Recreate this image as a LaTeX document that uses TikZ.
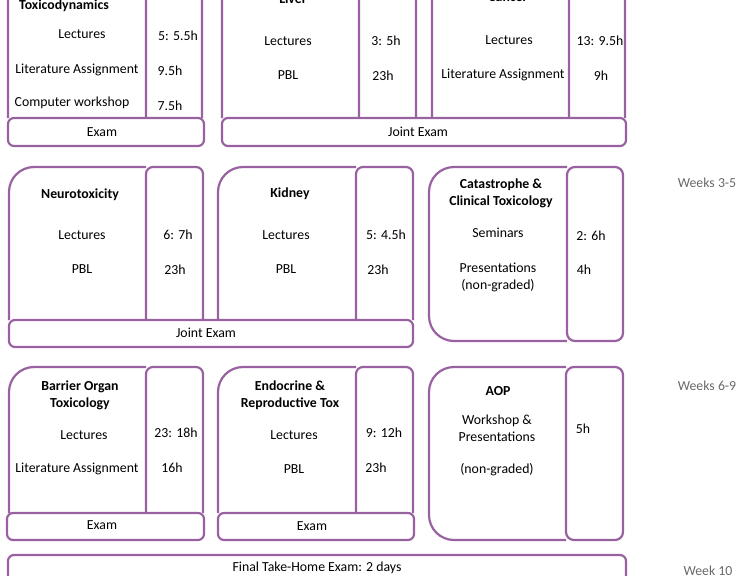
\documentclass[tikz,border=0pt]{standalone}
\usepackage{fontspec}
\setmainfont{Carlito}
\usetikzlibrary{positioning}
\definecolor{lila}{RGB}{152,98,160}
\definecolor{grau}{RGB}{105,105,105}

\begin{document}
\begin{tikzpicture}[x=1pt, y=-1pt,
    box/.style={draw=lila, line width=2.2pt, line join=round},
    exam/.style={box, fill=white, rounded corners=6},
    txt/.style={font=\fontsize{13.8}{17}\selectfont, align=center, inner sep=0pt},
    titel/.style={txt, font=\fontsize{13.8}{17}\selectfont\bfseries},
    woche/.style={txt, text=grau}]

    \useasboundingbox (0,0) rectangle (745,576);
    \clip (0,0) rectangle (745,576);

    % Kaesten Reihe 1
    \draw[box, rounded corners=25] (8,118) |- (146,-40);
    \draw[box, rounded corners=7] (146,118) |- (202,-40) -- (202,118);
    \draw[box, rounded corners=25] (222,118) |- (359,-40);
    \draw[box, rounded corners=7] (359,118) |- (416,-40) -- (416,118);
    \draw[box, rounded corners=25] (432,118) |- (569,-40);
    \draw[box, rounded corners=7] (569,118) |- (625,-40) -- (625,118);
    \draw[exam] (8,118) rectangle (204,146);
    \draw[exam] (222,118) rectangle (626,146);

    % Kaesten Reihe 2
    \draw[box, rounded corners=25] (9,320) |- (146,167);
    \draw[box, rounded corners=7] (146,320) |- (203,167) -- (203,320);
    \draw[box, rounded corners=25] (218,320) |- (356,167);
    \draw[box, rounded corners=7] (356,320) |- (413,167) -- (413,320);
    \draw[exam] (9,320) rectangle (413,347);
    \draw[box, rounded corners=25] (567,341) -| (429,167) -- (567,167);
    \draw[box, fill=white, rounded corners=8] (567,167) rectangle (623,341);

    % Kaesten Reihe 3
    \draw[box, rounded corners=25] (9,513) |- (146,367);
    \draw[box, rounded corners=7] (146,513) |- (203,367) -- (203,513);
    \draw[box, rounded corners=25] (218,513) |- (356,367);
    \draw[box, rounded corners=7] (356,513) |- (413,367) -- (413,513);
    \draw[exam] (7,513) rectangle (204,540);
    \draw[exam] (218,513) rectangle (414,540);
    \draw[box, rounded corners=25] (566,540) -| (429,367) -- (566,367);
    \draw[box, fill=white, rounded corners=8] (566,367) rectangle (623,540);

    % Abschlusspruefung
    \draw[exam] (8,555) rectangle (626,600);

    % Texte Reihe 1
    \node[titel] (td) at (64,6) {Toxicodynamics};
    \node[txt] (tdLec) at (82,34) {Lectures};
    \node[txt] (tdLecH) at (178,36) {5: 5.5h};
    \node[txt] (tdLit) at (77,70) {Literature Assignment};
    \node[txt] (tdLitH) at (170,71) {9.5h};
    \node[txt] (tdCom) at (72,103) {Computer workshop};
    \node[txt] (tdComH) at (170,106) {7.5h};
    \node[txt] (tdEx) at (102,132) {Exam};

    \node[titel] (li) at (293,-1) {Liver};
    \node[txt] (liLec) at (288,41) {Lectures};
    \node[txt] (liLecH) at (386,41) {3: 5h};
    \node[txt] (liPbl) at (288,75) {PBL};
    \node[txt] (liPblH) at (383,76) {23h};

    \node[titel] (ca) at (508,-3) {Cancer};
    \node[txt] (caLec) at (509,40) {Lectures};
    \node[txt] (caLecH) at (600,41) {13: 9.5h};
    \node[txt] (caLit) at (503,75) {Literature Assignment};
    \node[txt] (caLitH) at (601,76) {9h};
    \node[txt] (liEx) at (418,132) {Joint Exam};

    % Texte Reihe 2
    \node[titel] (ne) at (80,195) {Neurotoxicity};
    \node[txt] (neLec) at (82,235) {Lectures};
    \node[txt] (neLecH) at (178,235) {6: 7h};
    \node[txt] (nePbl) at (82,269) {PBL};
    \node[txt] (nePblH) at (175,270) {23h};

    \node[titel] (ki) at (290,194) {Kidney};
    \node[txt] (kiLec) at (286,235) {Lectures};
    \node[txt] (kiLecH) at (386,235) {5: 4.5h};
    \node[txt] (kiPbl) at (286,269) {PBL};
    \node[txt] (kiPblH) at (378,270) {23h};
    \node[txt] (neEx) at (206,333) {Joint Exam};

    \node[titel] (kt) at (501,193) {Catastrophe \&\\Clinical Toxicology};
    \node[txt] (ktSem) at (498,233) {Seminars};
    \node[txt] (ktSemH) at (591,236) {2: 6h};
    \node[txt] (ktPre) at (498,277) {Presentations\\(non-graded)};
    \node[txt] (ktPreH) at (584,270) {4h};
    \node[woche] (w1) at (707,183) {Weeks 3-5};

    % Texte Reihe 3
    \node[titel] (bo) at (80,395) {Barrier Organ\\Toxicology};
    \node[txt] (boLec) at (84,435) {Lectures};
    \node[txt] (boLecH) at (176,433) {23: 18h};
    \node[txt] (boLit) at (77,469) {Literature Assignment};
    \node[txt] (boLitH) at (172,468) {16h};
    \node[txt] (boEx) at (102,525) {Exam};

    \node[titel] (en) at (290,395) {Endocrine \&\\Reproductive Tox};
    \node[txt] (enLec) at (294,435) {Lectures};
    \node[txt] (enLecH) at (384,433) {9: 12h};
    \node[txt] (enPbl) at (294,469) {PBL};
    \node[txt] (enPblH) at (376,468) {23h};
    \node[txt] (enEx) at (312,526) {Exam};

    \node[titel] (ao) at (498,391) {AOP};
    \node[txt] (aoWs) at (497,428) {Workshop \&\\Presentations};
    \node[txt] (aoNg) at (497,470) {(non-graded)};
    \node[txt] (aoWsH) at (583,429) {5h};
    \node[woche] (w2) at (707,386) {Weeks 6-9};

    % Abschluss
    \node[txt] (fin) at (317,568) {Final Take-Home Exam: 2 days};
    \node[woche] (w3) at (708,571) {Week 10};

\end{tikzpicture}
\end{document}
